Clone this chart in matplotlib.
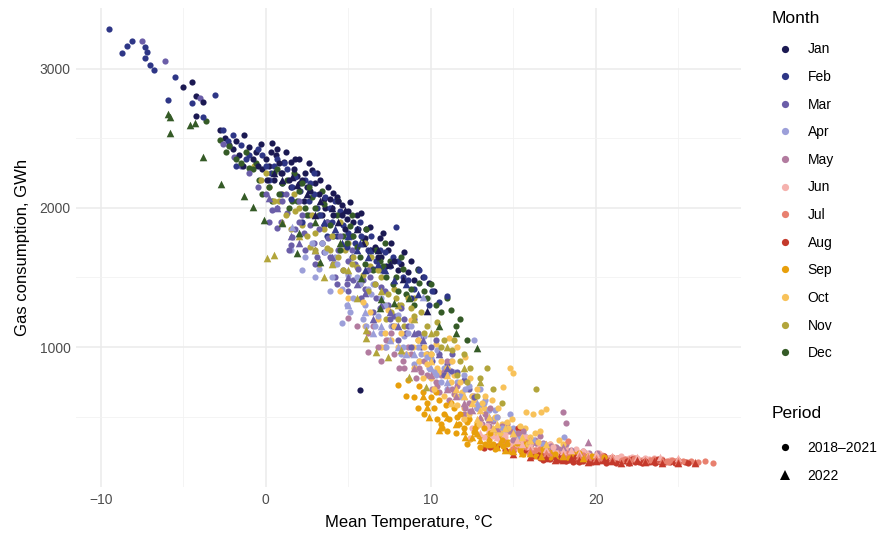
import matplotlib
matplotlib.use("Agg")
import matplotlib.pyplot as plt
from matplotlib.lines import Line2D

plt.rcParams['font.family'] = ['Liberation Sans', 'DejaVu Sans']

months = ["Jan", "Feb", "Mar", "Apr", "May", "Jun", "Jul", "Aug", "Sep", "Oct", "Nov", "Dec"]
colors = ["#1b1952", "#2e3686", "#6b5ea8", "#9c9fd9", "#b27b9f", "#f5b2ae",
          "#e8806f", "#c4392b", "#e89f0b", "#f8c25a", "#b2a53b", "#355b27"]
periods = ["2018\u20132021", "2022"]

# (mean temperature °C, gas consumption GWh)
jan_hist = [(-5.0,2870),(-4.5,2906),(-4.2,2806),(-3.8,2763),(-4.2,2662),(-2.5,2500),(-1.8,2480),(-1.3,2525),
            (-1.0,2440),(-0.6,2400),(-0.3,2460),(0.0,2350),(0.2,2300),(0.4,2468),(0.6,2380),(0.8,2320),
            (1.0,2250),(1.2,2400),(1.5,2330),(1.7,2280),(2.0,2350),(2.2,2200),(2.5,2150),(2.8,2270),
            (3.0,2180),(3.2,2100),(3.5,2060),(3.8,2150),(4.0,2000),(4.3,2080),(4.6,1950),(5.0,1980),
            (5.3,1900),(5.6,1850),(6.0,1780),(6.3,1860),(6.6,1720),(7.1,1820),(7.4,1700),(7.8,1620),
            (8.2,1600),(8.6,1540),(9.2,1561),(9.9,1460),(5.7,690),(1.5,2150),(0.5,2200),(-0.5,2300),
            (2.3,2050),(3.4,1950),(4.8,1850),(6.8,1650),(-2.0,2420),(1.9,2230),(4.1,2110),(5.8,1960),
            (-2.8,2560),(-2.2,2450),(-1.6,2380),(-0.8,2350),(-0.2,2280),(0.3,2400),(0.9,2250),(1.4,2200),
            (1.8,2350),(2.4,2250),(2.7,2120),(3.3,2200),(3.6,2000),(4.1,1950),(4.4,2050),(4.9,1920),
            (5.2,1800),(5.5,1950),(6.1,1850),(6.4,1700),(7.0,1650),(7.6,1750),(8.0,1550),(8.8,1620),
            (10.2,1400),(9.5,1500),(-1.4,2300),(0.1,2200),(0.7,2420),(1.1,2330),(2.6,2320),(3.9,2060),
            (5.1,2040),(6.9,1780),(7.3,1580),(8.4,1680),(9.0,1480),(2.1,2180),(3.1,2250),(4.6,2020)]
jan_2022 = [(0.5,2250),(1.0,2200),(1.6,2223),(1.9,2165),(2.5,2100),(3.3,2050),(4.0,2000),(4.8,1985),
            (5.5,1850),(5.9,1748),(6.8,1700),(7.5,1600),(8.3,1489),(9.8,1259),(3.0,1950),(4.4,1900)]
feb_hist = [(-9.5,3288),(-8.1,3201),(-8.4,3165),(-8.7,3115),(-7.3,3158),(-7.2,3122),(-7.3,3079),(-7.0,3029),
            (-6.8,2993),(-5.5,2942),(-5.9,2777),(-3.1,2813),(-2.0,2520),(-1.5,2450),(-1.0,2380),(-0.5,2420),
            (0.0,2300),(0.3,2250),(0.7,2350),(1.0,2180),(1.3,2280),(1.8,2220),(2.1,2120),(2.9,2252),
            (2.6,2050),(3.1,2000),(3.6,2080),(4.0,1900),(4.5,1980),(5.0,1820),(5.4,1750),(5.8,1800),
            (6.2,1700),(6.7,1620),(7.2,1680),(7.9,1863),(8.3,1500),(9.0,1420),(11.0,1367),(2.2,1900),
            (3.7,1800),(5.2,1650),(-2.6,2560),(0.9,2100),(4.2,2050),(6.5,1560),(8.8,1350),(10.1,1400),
            (-4.5,2750),(-3.8,2650),(-2.3,2480),(-1.2,2350),(-0.2,2380),(0.5,2300),(1.1,2320),(1.6,2150),
            (2.4,2200),(2.9,2100),(3.3,1950),(3.9,2000),(4.7,1880),(5.5,1850),(6.0,1750),(6.9,1700),
            (7.5,1580),(8.0,1620),(8.6,1480),(9.6,1500),(10.5,1320),(-1.8,2300),(0.2,2200),(1.5,2060),
            (2.7,2180),(3.5,1880),(4.3,1800),(5.7,1900),(6.4,1800),(7.0,1550),(7.7,1650),(9.3,1550),
            (9.9,1300),(4.9,1720)]
feb_2022 = [(3.5,1900),(4.2,1850),(5.0,1800),(5.5,1700),(6.2,1650),(6.8,1600),(7.2,1550),(7.8,1480),
            (8.5,1450),(4.6,1750),(6.0,1550),(9.2,1380),(5.7,1748),(6.3,1700)]
mar_hist = [(-7.5,3201),(-6.1,3058),(-4.0,2790),(-2.6,2460),(-1.9,2367),(-1.0,2250),(-0.5,2150),(0.0,2100),
            (0.4,1985),(0.7,2000),(0.7,1856),(1.0,2050),(1.3,1964),(1.5,1733),(1.6,1791),(2.0,1900),
            (2.3,1820),(2.6,1950),(2.9,1750),(3.2,1850),(3.5,1680),(3.8,1780),(4.1,1600),(4.4,1700),
            (4.7,1550),(5.0,1620),(5.3,1480),(5.6,1560),(6.0,1420),(6.3,1500),(6.7,1350),(7.0,1430),
            (7.4,1300),(7.8,1220),(8.2,1280),(8.6,1150),(9.0,1200),(9.5,1080),(10.0,1000),(10.5,950),
            (11.0,880),(11.6,820),(12.3,700),(3.0,1600),(5.0,1400),(6.5,1250),(8.0,1050),(2.0,2050),
            (-1.5,2300),(0.2,1900),(0.9,1900),(1.2,2100),(1.8,1850),(2.4,1700),(2.7,1880),(3.4,1750),
            (3.9,1650),(4.2,1500),(4.5,1800),(4.9,1450),(5.4,1600),(5.8,1350),(6.2,1550),(6.9,1280),
            (7.2,1400),(7.7,1150),(8.4,1200),(8.8,1000),(9.2,1100),(9.8,950),(10.3,1050),(10.8,800),
            (11.3,950),(12.0,760),(1.4,1700),(2.2,1950),(3.1,1650),(3.7,1900),(4.3,1450),(5.2,1700),
            (5.9,1480),(6.6,1450),(7.5,1200),(8.5,1100),(9.4,1000),(10.1,900),(11.2,830),(12.6,640)]
mar_2022 = [(0.2,2072),(0.7,2000),(1.5,1800),(2.0,1750),(3.0,1700),(4.0,1650),(5.0,1500),(5.5,1450),
            (6.0,1388),(7.0,1300),(7.5,1250),(8.0,1150),(9.0,1100),(9.5,1050),(10.5,950),(6.5,1200),(11.0,850)]
apr_hist = [(1.5,1700),(2.0,1800),(2.4,1650),(2.8,1750),(3.2,1560),(3.6,1680),(4.0,1500),(4.3,1600),
            (4.6,1420),(5.0,1520),(5.3,1350),(5.7,1450),(6.0,1300),(6.4,1380),(6.8,1220),(7.2,1300),
            (7.6,1150),(8.0,1230),(8.4,1080),(8.8,1150),(9.2,1000),(9.6,1080),(10.0,920),(10.4,980),
            (10.8,850),(11.2,900),(11.6,750),(12.0,800),(12.5,650),(13.0,700),(13.5,550),(14.0,500),
            (14.5,450),(15.0,420),(15.6,380),(16.2,330),(4.6,1173),(12.6,1050),(18.1,353),(9.8,928),
            (11.0,700),(13.2,600),(14.8,520),(10.2,820),(7.0,1100),
            (2.2,1550),(3.0,1500),(3.4,1750),(3.9,1400),(4.2,1650),(4.9,1300),(5.5,1500),(5.9,1200),
            (6.2,1420),(6.6,1150),(7.0,1350),(7.4,1050),(7.9,1150),(8.2,950),(8.6,1100),(9.0,880),
            (9.4,950),(9.9,850),(10.6,750),(11.4,820),(11.8,650),(12.3,720),(12.8,560),(13.3,620),
            (13.8,480),(14.3,420),(15.3,350),(5.1,1250),(6.1,1150),(7.3,1000),(8.3,1000),(9.3,900),
            (10.3,800),(11.0,800),(12.1,700),(13.0,580),(13.9,550),(15.0,380),(16.8,300),(6.5,1450),
            (8.1,1300)]
apr_2022 = [(1.6,1863),(5.0,1300),(6.0,1250),(7.0,1150),(7.5,1050),(8.0,1000),(9.0,950),(9.5,1360),
            (10.0,850),(11.0,750),(12.0,650),(12.8,600),(13.5,500),(6.5,1100),(8.5,950),(14.5,420)]
may_hist = [(5.5,1150),(6.2,1100),(6.8,1000),(7.3,1050),(7.8,950),(8.3,900),(8.8,950),(9.3,850),
            (9.8,800),(10.3,750),(10.8,820),(11.3,700),(11.8,650),(12.3,600),(12.8,560),(13.3,520),
            (13.8,470),(14.3,430),(14.8,400),(15.3,380),(15.8,350),(16.3,330),(16.8,310),(17.3,290),
            (17.8,270),(18.5,260),(19.2,250),(20.1,240),(18.0,532),(18.2,453),(5.0,1209),(6.2,964),
            (10.5,680),(12.0,520),(13.5,430),(15.0,330),
            (6.5,1150),(7.0,900),(7.6,1100),(8.1,850),(8.6,1000),(9.1,780),(9.6,900),(10.1,700),
            (10.6,800),(11.1,620),(11.6,720),(12.1,560),(12.6,650),(13.1,450),(13.6,560),(14.1,380),
            (14.6,450),(15.1,350),(15.6,400),(16.1,300),(16.6,360),(17.1,280),(18.2,300),(19.0,230),
            (20.5,220),(7.2,1000),(8.4,850),(9.4,820),(10.4,720),(11.4,660),(12.4,540),(13.4,490),
            (14.4,420),(15.4,360),(16.4,310),(17.6,280),(19.6,235),(11.0,900)]
may_2022 = [(9.0,850),(10.0,800),(11.0,700),(11.5,650),(12.0,600),(12.5,550),(13.0,500),(13.5,480),
            (14.0,420),(15.0,380),(16.0,330),(17.0,300),(18.0,280),(19.5,317)]
jun_hist = [(12.0,480),(12.8,430),(13.5,400),(14.0,380),(14.5,350),(15.0,330),(15.5,320),(16.0,300),
            (16.5,280),(17.0,270),(17.5,260),(18.0,250),(18.5,240),(19.0,235),(19.5,225),(20.0,220),
            (20.5,215),(21.0,210),(22.0,205),(23.0,200),(24.0,195),(13.2,350),(14.8,300),(16.2,260),
            (17.8,230),(19.8,205),(12.4,345),(15.8,350),(18.8,270),
            (12.5,420),(13.0,450),(13.8,360),(14.2,330),(14.6,390),(15.2,300),(15.6,350),(16.4,320),
            (16.8,250),(17.2,300),(17.6,240),(18.2,270),(18.6,220),(19.2,250),(19.6,215),(20.2,235),
            (20.8,205),(21.5,215),(22.5,200),(23.5,205),(21.8,195),(16.0,240),(13.4,430),(14.4,370),
            (15.4,340),(16.6,290),(17.4,280),(18.4,255),(19.4,240),(20.4,225),(21.2,205),(22.2,210),
            (23.2,195),(24.5,190)]
jun_2022 = [(13.0,380),(14.0,350),(15.2,331),(16.0,290),(17.0,270),(18.0,250),(19.0,240),(20.0,230),
            (21.0,215),(22.5,210),(23.9,209),(25.0,200),(15.5,300),(18.5,260)]
jul_hist = [(14.5,320),(15.2,290),(15.8,280),(16.3,260),(16.8,250),(17.3,240),(17.8,230),(18.3,324),
            (18.8,220),(19.3,215),(19.8,210),(20.3,205),(20.8,200),(21.3,200),(21.8,195),(22.3,195),
            (22.8,190),(23.3,188),(23.8,185),(24.3,183),(24.8,182),(25.3,180),(25.8,178),(27.1,165),
            (18.3,225),(20.0,190),(22.0,182),
            (15.0,270),(15.5,300),(16.0,240),(16.6,270),(17.0,230),(17.6,250),(18.0,215),(18.6,230),
            (19.0,205),(19.6,220),(20.6,195),(21.0,210),(21.6,190),(22.6,185),(23.0,195),(24.0,180),
            (24.6,188),(25.5,175),(26.2,172),(26.6,178),(15.8,320),(17.2,260),(18.2,240),(19.2,225),
            (20.4,215),(21.4,205),(22.4,200),(23.5,192),(24.4,175),(25.0,185),(26.0,170)]
jul_2022 = [(16.0,260),(17.0,240),(18.0,225),(19.0,215),(19.5,210),(20.0,205),(21.0,200),(22.0,195),
            (23.0,190),(24.0,185),(25.0,180),(26.0,175)]
aug_hist = [(13.2,273),(13.6,280),(15.3,417),(14.5,260),(15.5,240),(16.0,230),(16.5,225),(17.0,215),
            (17.5,210),(18.0,205),(18.5,200),(19.0,198),(19.5,195),(20.0,192),(20.5,190),(21.0,188),
            (21.5,186),(22.0,185),(22.5,183),(23.0,182),(23.5,180),(24.0,178),(24.5,177),(25.0,175),
            (16.8,190),(18.2,180),(19.8,175),(21.2,170),(22.8,168),(17.5,250),(20.5,215),(23.8,195),
            (14.0,290),(15.0,250),(16.2,215),(16.6,205),(17.2,195),(17.8,190),(18.4,188),(18.8,210),
            (19.2,182),(19.6,205),(20.2,180),(20.8,178),(21.4,195),(21.8,178),(22.2,192),(22.6,175),
            (23.2,175),(23.6,170),(24.2,172),(24.8,170),(25.4,172),(19.0,172),(20.0,200),(22.0,170),
            (24.0,185),(15.8,260),(16.9,230),(17.9,220),(18.9,195),(19.9,185),(20.9,185),(21.9,182),
            (22.9,178),(23.9,176),(24.9,174),(25.6,170),(18.6,175),(20.6,170),(22.4,172)]
aug_2022 = [(15.0,230),(16.0,210),(17.0,200),(17.5,185),(18.0,190),(18.5,200),(19.0,185),(19.5,175),
            (20.0,180),(20.5,190),(21.0,178),(21.5,170),(22.0,175),(22.5,185),(23.0,172),(23.5,180),
            (24.0,170),(25.0,168),(26.0,163)]
sep_hist = [(8.0,727),(8.6,763),(9.0,640),(9.5,680),(9.8,600),(10.2,560),(10.5,620),(10.8,520),
            (11.1,480),(11.4,560),(11.7,450),(12.0,420),(12.3,480),(12.6,390),(12.9,360),(13.2,420),
            (13.5,330),(13.8,300),(14.1,360),(14.4,290),(14.7,320),(15.0,280),(15.4,260),(15.8,300),
            (16.2,250),(16.6,240),(17.0,260),(17.5,230),(18.0,240),(18.8,225),(19.5,220),(20.5,210),
            (12.2,300),(11.0,400),(13.0,280),
            (8.5,650),(9.2,560),(9.6,520),(10.0,640),(10.4,480),(10.7,420),(11.2,600),(11.5,380),
            (11.8,520),(12.4,340),(12.8,450),(13.3,300),(13.6,380),(13.9,270),(14.3,330),(14.8,250),
            (15.2,310),(15.6,230),(16.0,280),(16.4,220),(16.8,270),(17.2,210),(17.8,220),(18.4,205),
            (19.0,240),(20.0,200),(21.0,200),(9.3,720),(10.3,680),(10.9,580),(11.6,500),(12.2,460),
            (12.7,420),(13.4,360),(13.8,410),(14.6,300),(15.5,290),(16.1,260),(17.4,250),(18.6,230),
            (19.8,215),(10.6,450)]
sep_2022 = [(9.5,650),(9.8,568),(9.9,496),(10.5,403),(11.0,500),(11.5,450),(12.0,400),(12.1,353),
            (12.5,350),(13.0,330),(13.5,300),(14.0,280),(14.5,260),(15.0,250),(15.5,240),(16.0,235),
            (16.7,216),(18.0,220),(19.2,201),(12.8,380),(14.2,320)]
oct_hist = [(4.5,1400),(5.0,1350),(5.9,1324),(6.3,1250),(6.8,1200),(7.4,1266),(7.8,1150),(8.2,1100),
            (8.8,1194),(9.2,1050),(9.6,1000),(10.0,950),(10.3,1020),(10.6,900),(11.1,1065),(11.0,850),
            (11.4,800),(11.6,1000),(11.8,750),(12.1,928),(12.2,700),(12.5,650),(12.8,700),(13.1,600),
            (13.4,550),(13.7,620),(14.0,500),(14.4,712),(14.3,450),(14.8,849),(15.0,813),(14.7,420),
            (15.1,380),(15.5,400),(15.8,532),(16.0,350),(16.2,520),(16.7,532),(17.0,554),(16.5,320),
            (17.2,300),(9.0,850),(10.0,780),(11.5,650),(13.0,480),(7.0,1000),(12.0,560),(14.0,380),
            (6.0,1150),(7.2,1100),(8.0,1000),(8.5,950),(9.3,900),(9.5,780),(9.8,880),(10.2,700),
            (10.5,820),(10.8,650),(11.2,750),(11.6,580),(11.9,680),(12.3,520),(12.6,620),(12.9,450),
            (13.2,560),(13.6,420),(13.9,500),(14.2,380),(14.6,460),(15.2,330),(15.4,430),(15.9,300),
            (16.3,380),(17.5,280),(18.0,300),(7.6,1050),(8.9,1000),(9.7,950),(10.4,850),(11.3,900),
            (12.4,780),(13.3,650),(14.1,560),(14.9,480),(15.7,420),(16.6,400),(17.8,330),(12.0,480),
            (13.5,380)]
oct_2022 = [(10.0,900),(11.0,800),(11.2,600),(11.5,700),(12.0,650),(12.5,600),(12.8,480),(13.0,550),
            (13.5,500),(13.8,420),(14.0,450),(14.5,420),(15.0,380),(15.5,350),(16.0,330),(17.0,300)]
nov_hist = [(-0.7,2302),(0.2,2151),(0.8,2050),(1.2,1950),(1.8,1978),(2.2,1880),(2.7,1719),(3.0,1820),
            (3.4,1750),(3.7,1712),(4.0,1800),(4.4,1650),(4.8,1700),(5.2,1600),(5.5,1576),(5.9,1520),
            (6.3,1580),(6.6,1450),(7.0,1500),(7.4,1380),(7.8,1420),(8.2,1300),(8.6,1350),(9.0,1220),
            (9.4,1250),(9.8,1150),(10.3,1100),(10.8,1050),(11.3,980),(11.8,900),(12.4,850),(13.0,780),
            (13.8,700),(16.4,698),(6.0,1750),(4.5,1900),(3.2,1600),(8.0,1200),
            (-0.3,2200),(0.5,2050),(1.0,2100),(1.5,1850),(2.0,2000),(2.5,1800),(3.0,1700),(3.5,1850),
            (4.2,1600),(4.7,1550),(5.0,1750),(5.7,1450),(6.2,1400),(6.8,1550),(7.2,1300),(7.6,1250),
            (8.4,1150),(8.8,1280),(9.2,1050),(9.6,1100),(10.0,950),(10.6,1000),(11.0,850),(11.6,800),
            (12.2,750),(12.8,650),(14.3,600),(0.0,2250),(1.7,2100),(2.8,1950),(3.9,1700),(5.3,1650),
            (6.4,1650),(7.9,1350),(9.0,1350),(10.4,1180),(11.4,1050),(12.0,950),(13.4,850),(7.3,1200)]
nov_2022 = [(0.1,1640),(0.5,1662),(1.0,1900),(2.0,1800),(3.0,1700),(3.5,1500),(4.0,1600),(5.0,1550),
            (5.5,1350),(6.1,1122),(6.1,1065),(6.7,964),(7.4,928),(8.2,978),(8.7,784),(9.7,712),
            (7.0,1400),(8.0,1300),(9.0,1200),(10.0,1100),(11.0,1000),(12.0,850),(13.0,750)]
dec_hist = [(-3.6,2626),(-2.8,2490),(-2.2,2446),(-1.5,2324),(-1.0,2288),(-0.4,2200),(0.2,2150),(0.8,2100),
            (1.3,2200),(1.6,2050),(2.0,2120),(2.4,2000),(2.8,2080),(3.2,1950),(3.5,2030),(3.9,1880),
            (4.3,1950),(4.7,1800),(5.1,1870),(5.5,1720),(5.9,1780),(6.3,1650),(6.7,1700),(7.1,1580),
            (7.5,1620),(7.9,1500),(8.3,1560),(8.8,1420),(9.3,1460),(9.8,1350),(10.3,1300),(11.2,1266),
            (11.8,1200),(0.5,2250),(2.2,2180),(4.5,1700),(6.0,1600),(8.0,1400),
            (-2.4,2400),(-1.8,2350),(-0.8,2280),(-0.2,2100),(0.4,2050),(1.0,2180),(1.4,2000),(1.9,2050),
            (2.5,1950),(3.0,2000),(3.7,1900),(4.1,1800),(4.9,1750),(5.3,1800),(5.7,1650),(6.5,1550),
            (6.9,1620),(7.3,1500),(7.7,1450),(8.5,1380),(9.0,1300),(9.6,1400),(10.6,1250),(11.5,1150),
            (12.2,1050),(-1.2,2400),(-0.6,2320),(0.7,2280),(1.7,2250),(2.6,2150),(3.4,2120),(4.4,2050),
            (5.2,1950),(6.1,1850),(7.2,1750),(8.2,1650),(9.2,1550),(10.0,1450),(11.0,1350)]
dec_2022 = [(-5.9,2676),(-5.8,2655),(-5.8,2540),(-4.6,2597),(-4.3,2612),(-3.8,2367),(-2.7,2173),(-1.3,2086),
            (-0.8,2007),(-0.1,1914),(1.0,1892),(1.9,1676),(2.0,1820),(3.3,1612),(5.8,1496),(6.9,1281),
            (7.0,1345),(7.8,1317),(8.7,1352),(10.5,1150),(11.5,1100),(12.8,993),(4.5,1750),(3.0,1900)]

hist = [jan_hist, feb_hist, mar_hist, apr_hist, may_hist, jun_hist,
        jul_hist, aug_hist, sep_hist, oct_hist, nov_hist, dec_hist]
recent = [jan_2022, feb_2022, mar_2022, apr_2022, may_2022, jun_2022,
          jul_2022, aug_2022, sep_2022, oct_2022, nov_2022, dec_2022]

fig = plt.figure(figsize=(8.91, 5.37), dpi=100)
ax = fig.add_axes([0.0853, 0.0931, 0.7463, 0.892])

# draw historical points interleaved (roughly chronological order)
for k in range(4):
    for pts, c in zip(hist, colors):
        sub = pts[k::4]
        if sub:
            ax.scatter([p[0] for p in sub], [p[1] for p in sub], s=20, c=c,
                       marker='o', linewidths=0, zorder=3)
for pts, c in zip(recent, colors):
    ax.scatter([p[0] for p in pts], [p[1] for p in pts], s=30, c=c,
               marker='^', linewidths=0, zorder=4)

ax.set_xlim(-11.5, 28.8)
ax.set_ylim(-6, 3436)
ax.set_xticks([-10, 0, 10, 20])
ax.set_yticks([1000, 2000, 3000])
ax.set_xticks([-5, 5, 15, 25], minor=True)
ax.set_yticks([500, 1500, 2500], minor=True)
ax.grid(True, which='major', color='#ebebeb', linewidth=1.1, zorder=0)
ax.grid(True, which='minor', color='#f2f2f2', linewidth=0.6, zorder=0)
ax.set_axisbelow(True)
for sp in ax.spines.values():
    sp.set_visible(False)
ax.tick_params(which='both', length=0, labelsize=10, labelcolor='#4d4d4d', pad=4)
ax.set_xlabel("Mean Temperature, \u00b0C", fontsize=12, color='black', labelpad=6)
ax.set_ylabel("Gas consumption, GWh", fontsize=12, color='black', labelpad=7)

month_handles = [Line2D([], [], marker='o', linestyle='', markersize=5.2, color=c,
                        markeredgewidth=0) for c in colors]
leg1 = fig.legend(month_handles, months, title="Month", loc='upper left',
                  bbox_to_anchor=(0.8595, 0.989), frameon=False, fontsize=10,
                  title_fontsize=12.5, labelspacing=0.98, handletextpad=0.6,
                  handlelength=2.0, borderaxespad=0)
leg1._legend_box.align = "left"
leg1._legend_box.sep = 11.5
period_handles = [Line2D([], [], marker='o', linestyle='', markersize=5.2, color='black',
                         markeredgewidth=0),
                  Line2D([], [], marker='^', linestyle='', markersize=6.5, color='black',
                         markeredgewidth=0)]
leg2 = fig.legend(period_handles, periods, title="Period", loc='upper left',
                  bbox_to_anchor=(0.8595, 0.254), frameon=False, fontsize=10,
                  title_fontsize=12.5, labelspacing=0.98, handletextpad=0.6,
                  handlelength=2.0, borderaxespad=0)
leg2._legend_box.align = "left"
leg2._legend_box.sep = 14.5

fig.savefig("out.png", dpi=100)
